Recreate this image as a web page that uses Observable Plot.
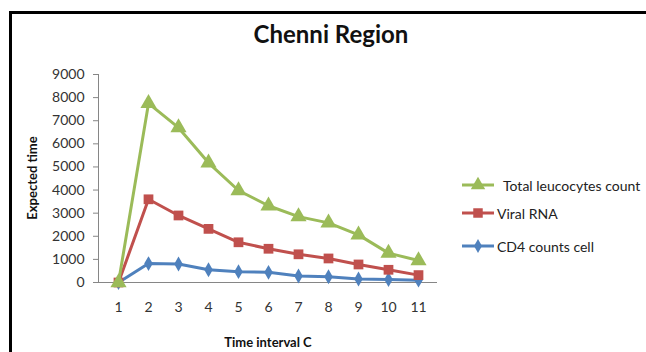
<!DOCTYPE html>
<html><head><meta charset="utf-8">
<script src="https://cdn.jsdelivr.net/npm/d3@7"></script>
<script src="https://cdn.jsdelivr.net/npm/@observablehq/plot@0.6"></script>
<style>
html,body{margin:0;padding:0;background:#fff;}
#wrap{position:relative;width:646px;height:352px;overflow:hidden;font-family:Lato,"Open Sans",sans-serif;}
#frame{position:absolute;left:9px;top:11px;width:700px;height:400px;border-left:3px solid #000;border-top:3px solid #000;}
#title{position:absolute;left:0;width:662px;top:19px;text-align:center;font-size:24px;font-weight:bold;color:#111;}
#ylab{position:absolute;left:32px;top:178px;transform:translate(-50%,-50%) rotate(-90deg);font-size:13px;font-weight:bold;white-space:nowrap;color:#111;}
#xlab{position:absolute;left:268px;top:342px;transform:translate(-50%,-50%);font-size:13px;font-weight:bold;white-space:nowrap;color:#111;}
#chart{position:absolute;left:0;top:0;}
.leg{position:absolute;left:460px;display:flex;align-items:center;font-size:14px;color:#222;white-space:nowrap;}
.leg svg{margin-right:1px;}
</style></head>
<body><div id="wrap">
<div id="frame"></div>
<div id="chart"></div>
<div id="title">Chenni Region</div>
<div id="ylab">Expected time</div>
<div id="xlab">Time interval C</div>
<div id="legend"></div>
</div>
<script>
const intervals = [1,2,3,4,5,6,7,8,9,10,11];
const leucocytes = [0,7750,6700,5180,3980,3320,2850,2580,2060,1270,950];
const viralRNA = [0,3600,2900,2320,1740,1460,1220,1040,780,550,320];
const cd4 = [0,820,800,550,470,440,280,250,150,130,100];
const yTicks = [0,1000,2000,3000,4000,5000,6000,7000,8000,9000];
const seriesNames = ["Total leucocytes count","Viral RNA","CD4 counts cell"];
const colors = ["#9BBB59","#C0504D","#4F81BD"];
const symbols = ["triangle","square","diamond"];
const sizes = [6,5.5,4.5];
const seriesVals = [leucocytes, viralRNA, cd4];

const rows = [];
seriesNames.forEach((s,k)=>intervals.forEach((t,i)=>rows.push({series:s,t,v:seriesVals[k][i]})));

const marks = [
  Plot.ruleY([0],{stroke:"#868686",strokeWidth:1}),
  Plot.axisY({ticks:yTicks,tickSize:5,tickPadding:9,tickFormat:d=>String(d),fontSize:14,fill:"#333",stroke:"#868686",label:null}),
  Plot.axisX({tickSize:0,tickPadding:20,fontSize:14,fill:"#333",label:null}),
];
[2,1,0].forEach(k=>{
  const d = rows.filter(r=>r.series===seriesNames[k]);
  marks.push(Plot.line(d,{x:"t",y:"v",stroke:colors[k],strokeWidth:3}));
});
[2,1,0].forEach(k=>{
  const d = rows.filter(r=>r.series===seriesNames[k]);
  marks.push(Plot.dot(d,{x:"t",y:"v",symbol:()=>symbols[k],fill:colors[k],stroke:"none",r:sizes[k]}));
});

const chart = Plot.plot({
  width:646,height:352,
  marginLeft:98,marginRight:209,marginTop:74,marginBottom:70,
  style:{background:"transparent",fontFamily:"Lato, 'Open Sans', sans-serif",overflow:"visible"},
  x:{type:"point",domain:intervals,padding:0.5,axis:null},
  y:{domain:[0,9000],axis:null},
  symbol:{type:"identity"},
  marks
});
document.getElementById("chart").append(chart);
const svg = d3.select(chart);
const ys = chart.scale("y");
svg.append("line").attr("x1",98.5).attr("x2",98.5).attr("y1",ys.apply(9000)).attr("y2",ys.apply(0)).attr("stroke","#868686");

// legend
const legTops = [185,213,246];
const leg = document.getElementById("legend");
seriesNames.forEach((s,k)=>{
  const div = document.createElement("div");
  div.className="leg";
  div.style.top=(legTops[k]-9)+"px";
  const sym = d3.symbol(k===0?d3.symbolTriangle:k===1?d3.symbolSquare:d3.symbolDiamond, k===2?55:90)();
  div.innerHTML = `<svg width="36" height="18"><line x1="2" x2="34" y1="9" y2="9" stroke="${colors[k]}" stroke-width="3"/><path d="${sym}" transform="translate(18,9)" fill="${colors[k]}"/></svg><span style="margin-left:${k===0?6:0}px">${s}</span>`;
  leg.append(div);
});
</script>
</body></html>
